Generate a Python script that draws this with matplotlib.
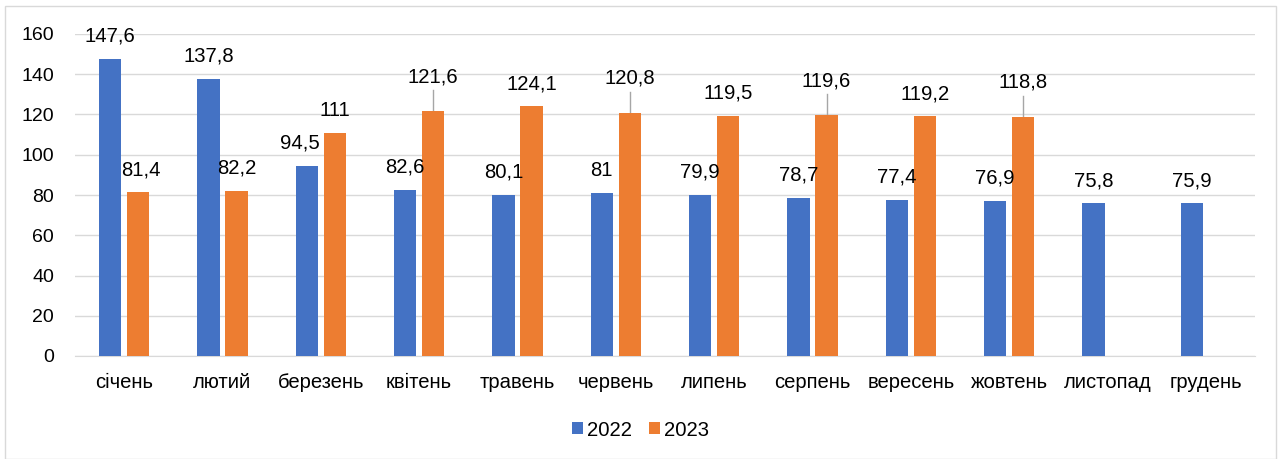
import numpy as np
import matplotlib
matplotlib.use("Agg")
import matplotlib.pyplot as plt
from matplotlib.patches import Rectangle

months = ["січень", "лютий", "березень", "квітень", "травень", "червень",
          "липень", "серпень", "вересень", "жовтень", "листопад", "грудень"]
v2022 = [147.6, 137.8, 94.5, 82.6, 80.1, 81, 79.9, 78.7, 77.4, 76.9, 75.8, 75.9]
v2023 = [81.4, 82.2, 111, 121.6, 124.1, 120.8, 119.5, 119.6, 119.2, 118.8]

# label offsets in points (dx, dy) - some 2023 labels were moved up with a leader line
off2022 = [(0, 16.5), (0, 16.5), (-5, 16.5), (0, 16.5), (0, 16.5), (0, 16.5),
           (0, 16.5), (0, 16.5), (0, 16.5), (0, 16.5), (0, 16), (0, 16)]
off2023 = [(2, 16), (0, 16), (0, 16), (0, 25), (0, 16), (0, 25),
           (0, 16), (0, 25), (0, 16), (0, 25)]
leader = [False, False, False, True, False, True, False, True, False, True]

blue = "#4472C4"
orange = "#ED7D31"

plt.rcParams['font.family'] = ['Liberation Sans', 'DejaVu Sans']

fig = plt.figure(figsize=(12.81, 4.59), dpi=100)
ax = fig.add_axes([75/1281, 1-356/459, 1180/1281, 322/459])

x = np.arange(len(months))
w = 0.225
gap = 0.06
ax.bar(x[:len(v2022)] - (w+gap)/2, v2022, w, color=blue, label="2022", zorder=3)
ax.bar(x[:len(v2023)] + (w+gap)/2, v2023, w, color=orange, label="2023", zorder=3)

def fmt(v):
    s = ("%.1f" % v).rstrip("0").rstrip(".")
    return s.replace(".", ",")

for i, v in enumerate(v2022):
    dx, dy = off2022[i]
    ax.annotate(fmt(v), (x[i] - (w+gap)/2, v), xytext=(dx, dy),
                textcoords="offset points", ha="center", va="center", fontsize=14.6)
for i, v in enumerate(v2023):
    dx, dy = off2023[i]
    ax.annotate(fmt(v), (x[i] + (w+gap)/2, v), xytext=(dx, dy),
                textcoords="offset points", ha="center", va="center", fontsize=14.6)
    if leader[i]:
        ax.plot([x[i] + (w+gap)/2] * 2, [v, v + 10.5], color="#A6A6A6", lw=1, zorder=2)

ax.set_xlim(-0.5, len(months) - 0.5)
ax.set_ylim(0, 160)
ax.set_yticks(np.arange(0, 161, 20))
ax.set_xticks(x)
ax.set_xticklabels(months)
ax.tick_params(axis="both", length=0)
ax.tick_params(axis="x", pad=12, labelsize=14.6)
ax.tick_params(axis="y", pad=15, labelsize=14)
ax.grid(axis="y", color="#D9D9D9", lw=1, zorder=0)
for s in ["top", "right", "left"]:
    ax.spines[s].set_visible(False)
ax.spines["bottom"].set_color("#D9D9D9")

fig.legend(loc="center", bbox_to_anchor=(0.5, 1-430/459), ncol=2, frameon=False,
           fontsize=14.6, handlelength=0.55, handleheight=0.55, handletextpad=0.2,
           columnspacing=0.85)

fig.patches.append(Rectangle((5/1281, 0), 1-10/1281, 1-6/459, transform=fig.transFigure,
                             fill=False, edgecolor="#D9D9D9", lw=1))

fig.savefig("out.png", dpi=100)
